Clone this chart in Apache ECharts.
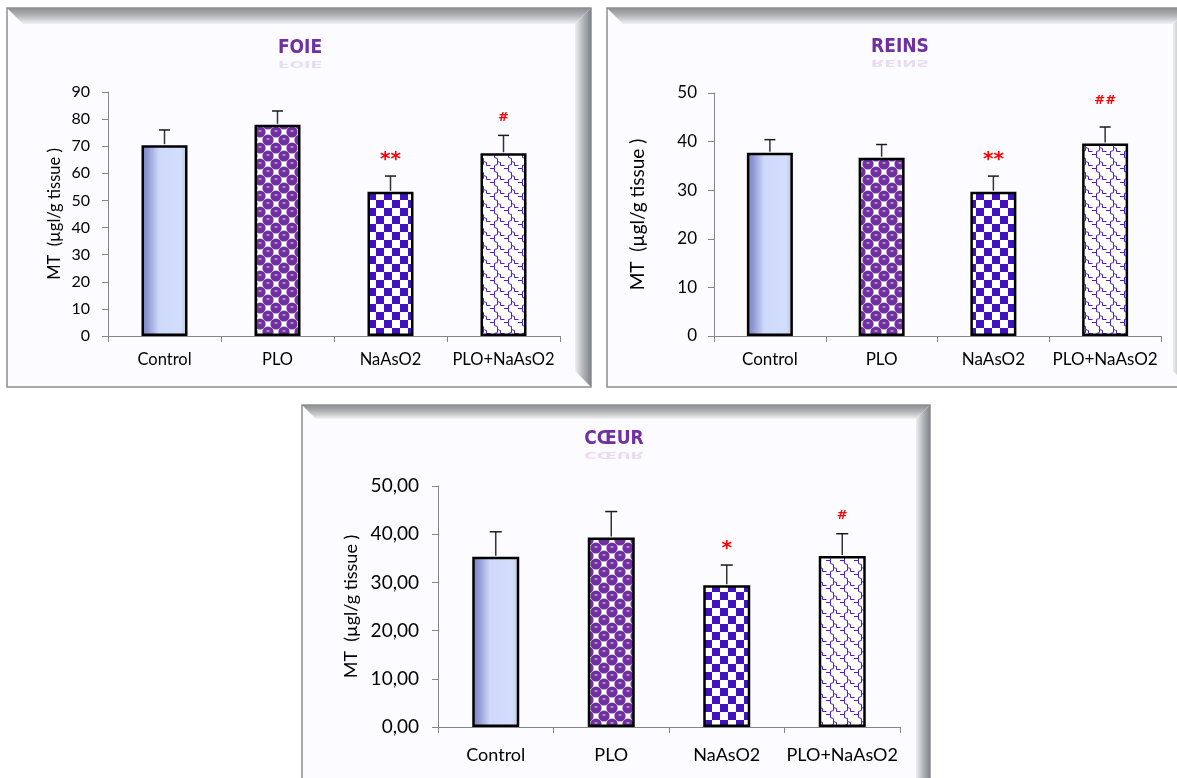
<!DOCTYPE html>
<html>
<head>
<meta charset="utf-8">
<script src="https://cdn.jsdelivr.net/npm/echarts@6/dist/echarts.min.js"></script>
<style>
html,body{margin:0;padding:0;background:#fff;}
#c{width:1177px;height:778px;}
</style>
</head>
<body>
<div id="c"></div>
<script>
// ---------- data ----------
const categories = ['Control', 'PLO', 'NaAsO2', 'PLO+NaAsO2'];

const foieTitle = 'FOIE';
const foieMeans = [70.4, 77.9, 53.2, 67.4];
const foieErr   = [5.6, 5.1, 5.8, 6.6];
const foieMarks = ['', '', '**', '#'];
const foieTicks = [0, 10, 20, 30, 40, 50, 60, 70, 80, 90];

const reinsTitle = 'REINS';
const reinsMeans = [37.7, 36.7, 29.7, 39.6];
const reinsErr   = [2.7, 2.7, 3.2, 3.4];
const reinsMarks = ['', '', '**', '##'];
const reinsTicks = [0, 10, 20, 30, 40, 50];

const coeurTitle = 'CŒUR';
const coeurMeans = [35.3, 39.3, 29.4, 35.5];
const coeurErr   = [5.2, 5.4, 4.2, 4.6];
const coeurMarks = ['', '', '*', '#'];
const coeurTicks = ['0,00', '10,00', '20,00', '30,00', '40,00', '50,00'];

const yName = 'MT  (µgl/g tissue )';

// ---------- patterns ----------
function mkCanvas(w, h) {
  const c = document.createElement('canvas');
  c.width = w; c.height = h;
  return c;
}
function checkerPattern() {
  const s = 8;
  const c = mkCanvas(2 * s, 2 * s);
  const g = c.getContext('2d');
  g.fillStyle = '#ffffff'; g.fillRect(0, 0, 2 * s, 2 * s);
  g.fillStyle = '#4011bf';
  g.fillRect(0, 0, s, s); g.fillRect(s, s, s, s);
  return c;
}
function spherePattern() {
  const c = mkCanvas(16, 16);
  const g = c.getContext('2d');
  g.fillStyle = '#ffffff'; g.fillRect(0, 0, 16, 16);
  const centers = [];
  [[4, 4], [12, 12]].forEach(([x, y]) => {
    for (const dx of [-16, 0, 16]) for (const dy of [-16, 0, 16]) centers.push([x + dx, y + dy]);
  });
  g.fillStyle = '#7030a0';
  centers.forEach(([x, y]) => { g.beginPath(); g.arc(x, y, 5.6, 0, Math.PI * 2); g.fill(); });
  g.fillStyle = 'rgba(255,255,255,0.85)';
  centers.forEach(([x, y]) => { g.fillRect(x - 1.5, y - 1.5, 3, 1); });
  return c;
}
function wavePattern() {
  const c = mkCanvas(14, 14);
  const g = c.getContext('2d');
  g.fillStyle = '#ffffff'; g.fillRect(0, 0, 14, 14);
  g.strokeStyle = '#4a1cc8';
  g.lineWidth = 1;
  g.beginPath();
  g.moveTo(0, 0.5); g.lineTo(4.5, 0.5); g.lineTo(4.5, 3.5); g.lineTo(7.5, 4.5); g.lineTo(7.5, 7.5);
  g.lineTo(10.5, 8.5); g.lineTo(10.5, 11.5); g.lineTo(14, 11.5);
  g.moveTo(7.5, 7.5); g.lineTo(7.5, 10.5); g.lineTo(4.5, 11.5); g.lineTo(4.5, 14);
  g.moveTo(4.5, 0); g.lineTo(4.5, 0.5);
  g.moveTo(0, 11.5); g.lineTo(0.5, 11.5);
  g.stroke();
  return c;
}
const controlFill = new echarts.graphic.LinearGradient(0, 0, 1, 0, [
  { offset: 0, color: '#7a81c0' },
  { offset: 0.12, color: '#8c95d0' },
  { offset: 0.38, color: '#cfdafb' },
  { offset: 0.85, color: '#d3defd' },
  { offset: 1, color: '#b9c5da' }
]);
const fills = [
  controlFill,
  { image: spherePattern(), repeat: 'repeat' },
  { image: checkerPattern(), repeat: 'repeat' },
  { image: wavePattern(), repeat: 'repeat' }
];

// ---------- layout ----------
const FONT = 'Lato, "Open Sans", sans-serif';
const TFONT = '900 19px "DejaVu Sans Condensed", "DejaVu Sans", sans-serif';
const panels = [
  { title: foieTitle, means: foieMeans, err: foieErr, marks: foieMarks, ticks: foieTicks,
    frame: [7, 8, 591, 387], bevel: 16, titleXY: [300, 47],
    grid: { left: 108, top: 92, width: 452, height: 244 },
    max: 90, interval: 10, barWidth: 46, tickFont: 16, catFont: 16.5, catMargin: 15, tickMargin: 18,
    nameFont: 16.5, nameGap: 45, capW: 11 },
  { title: reinsTitle, means: reinsMeans, err: reinsErr, marks: reinsMarks, ticks: reinsTicks,
    frame: [607, 8, 1189, 387], bevel: 16, titleXY: [900, 46],
    grid: { left: 714, top: 93, width: 447, height: 243 },
    max: 50, interval: 10, barWidth: 46, tickFont: 17, catFont: 17, catMargin: 15, tickMargin: 17,
    nameFont: 19, nameGap: 67, capW: 11 },
  { title: coeurTitle, means: coeurMeans, err: coeurErr, marks: coeurMarks, ticks: coeurTicks,
    frame: [302, 405, 930, 800], bevel: 14, titleXY: [614, 438],
    grid: { left: 438, top: 486, width: 462, height: 241 },
    max: 50, interval: 10, barWidth: 47, tickFont: 19, catFont: 18, catMargin: 19, tickMargin: 19,
    nameFont: 18, nameGap: 78, capW: 12 }
];

const markStyle = {
  '*':  { size: 20, weight: 'bold', gap: 16 },
  '**': { size: 20, weight: 'bold', gap: 16 },
  '#':  { size: 13, weight: 'bold', gap: 18 },
  '##': { size: 13, weight: 'bold', gap: 26 }
};

const graphics = [];
panels.forEach((p) => {
  const [x0, y0, x1, y1] = p.frame;
  const b = p.bevel;
  graphics.push({ type: 'rect', z: -20, shape: { x: x0, y: y0, width: x1 - x0, height: y1 - y0 },
    style: { fill: '#fcfbff', stroke: '#8e8e8e', lineWidth: 1.5 } });
  graphics.push({ type: 'polygon', z: -19, shape: { points: [[x0, y0], [x1, y0], [x1 - b, y0 + b], [x0 + b, y0 + b]] },
    style: { fill: new echarts.graphic.LinearGradient(0, 0, 0, 1, [
      { offset: 0, color: '#8b8e91' }, { offset: 0.5, color: '#b5b7ba' }, { offset: 1, color: '#f2f2f4' }]) } });
  graphics.push({ type: 'polygon', z: -19, shape: { points: [[x1, y0], [x1, y1], [x1 - b, y1 - b], [x1 - b, y0 + b]] },
    style: { fill: new echarts.graphic.LinearGradient(0, 0, 1, 0, [
      { offset: 0, color: '#eeeef0' }, { offset: 0.45, color: '#b9bcbf' }, { offset: 1, color: '#7f8387' }]) } });
  const [tx, ty] = p.titleXY;
  graphics.push({ type: 'text', z: 5, x: tx, y: ty + 11,
    style: { text: p.title, fill: '#7030a0', font: TFONT, align: 'center', verticalAlign: 'bottom' } });
  graphics.push({ type: 'text', z: 5, x: tx, y: ty + 12, scaleY: -0.5,
    style: { text: p.title, opacity: 0.15, fill: '#7030a0', font: TFONT, align: 'center', verticalAlign: 'bottom' } });
});

const grids = [], xAxes = [], yAxes = [], series = [];
panels.forEach((p, i) => {
  grids.push(Object.assign({ containLabel: false }, p.grid));
  xAxes.push({
    type: 'category', gridIndex: i, data: categories,
    axisLine: { lineStyle: { color: '#868686', width: 1 } },
    axisTick: { show: true, length: 6, lineStyle: { color: '#868686' } },
    axisLabel: { interval: 0, color: '#000', fontFamily: FONT, fontSize: p.catFont, margin: p.catMargin }
  });
  yAxes.push({
    type: 'value', gridIndex: i, min: 0, max: p.max, interval: p.interval,
    name: yName, nameLocation: 'middle', nameGap: p.nameGap, nameRotate: 90,
    nameTextStyle: { color: '#000', fontFamily: FONT, fontSize: p.nameFont },
    axisLine: { show: true, lineStyle: { color: '#868686', width: 1 } },
    axisTick: { show: true, length: 6, lineStyle: { color: '#868686' } },
    splitLine: { show: false },
    axisLabel: { color: '#000', fontFamily: FONT, fontSize: p.tickFont, margin: p.tickMargin,
      formatter: (v) => String(p.ticks[Math.round(v / p.interval)]) }
  });
  series.push({
    type: 'bar', xAxisIndex: i, yAxisIndex: i, barWidth: p.barWidth, z: 2,
    data: p.means.map((v, k) => ({ value: v, itemStyle: { color: fills[k] } })),
    itemStyle: { borderColor: '#000', borderWidth: 2.5 },
    emphasis: { disabled: true }, silent: true
  });
  series.push({
    type: 'custom', xAxisIndex: i, yAxisIndex: i, z: 3, silent: true,
    data: p.means.map((v, k) => [k, v, p.err[k]]),
    renderItem: (params, api) => {
      const k = api.value(0), v = api.value(1), e = api.value(2);
      const base = api.coord([k, v]);
      const top = api.coord([k, v + e]);
      const cw = p.capW / 2;
      const children = [
        { type: 'line', shape: { x1: base[0], y1: base[1] - 1, x2: top[0], y2: top[1] }, style: { stroke: '#333333', lineWidth: 1.5 } },
        { type: 'line', shape: { x1: top[0] - cw, y1: top[1], x2: top[0] + cw, y2: top[1] }, style: { stroke: '#1a1a1a', lineWidth: 1.5 } }
      ];
      const m = p.marks[k];
      if (m) {
        const ms = markStyle[m];
        children.push({ type: 'text', x: top[0], y: top[1] - ms.gap,
          style: { text: m, fill: '#ff0000', fontSize: ms.size, fontWeight: ms.weight, fontFamily: 'DejaVu Sans, sans-serif',
            align: 'center', verticalAlign: 'middle' } });
      }
      return { type: 'group', children };
    }
  });
});

const chart = echarts.init(document.getElementById('c'), null, { renderer: 'canvas' });
chart.setOption({
  animation: false,
  backgroundColor: '#ffffff',
  grid: grids, xAxis: xAxes, yAxis: yAxes, series: series,
  graphic: { elements: graphics }
});
</script>
</body>
</html>
